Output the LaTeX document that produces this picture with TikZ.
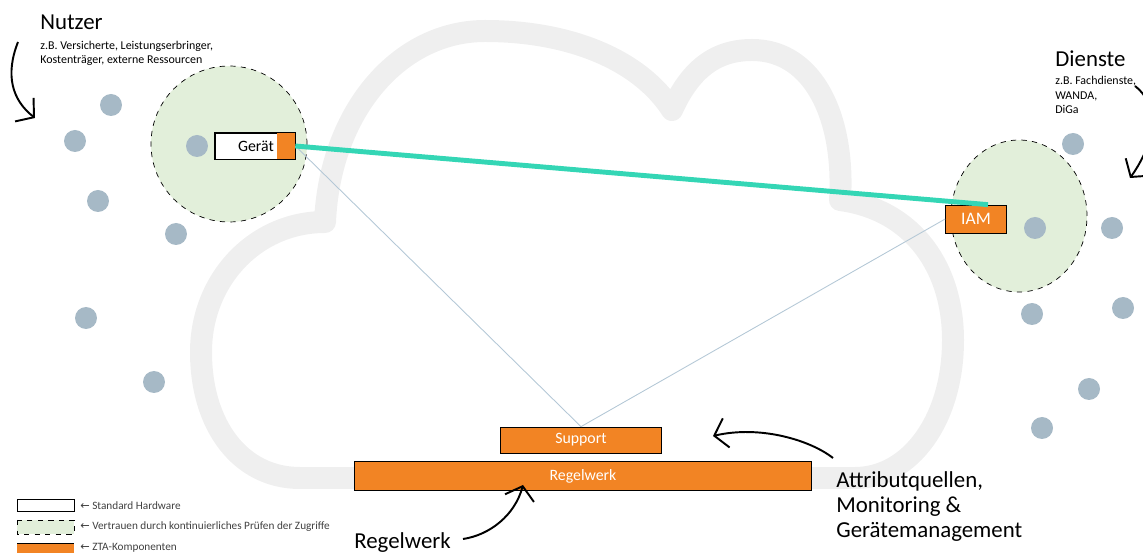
\documentclass[tikz,border=0pt]{standalone}
\usepackage{fontspec}
\setmainfont{Carlito}
\newfontfamily\arrowfont{DejaVu Sans}
\usetikzlibrary{arrows.meta,shapes.geometric}
\definecolor{cloudgray}{RGB}{239,239,239}
\definecolor{dotblue}{RGB}{166,185,198}
\definecolor{trustgreen}{RGB}{226,239,218}
\definecolor{ztaorange}{RGB}{242,132,36}
\definecolor{linkteal}{RGB}{52,214,181}
\definecolor{thinblue}{RGB}{180,200,214}
\definecolor{legendgray}{RGB}{64,64,64}
\tikzset{
  dot/.style={circle,fill=dotblue,inner sep=0pt,minimum size=0.44cm},
  trustzone/.style={ellipse,draw=black,dashed,fill=trustgreen,inner sep=0pt},
  hwbox/.style={draw=black,fill=white,inner sep=0pt},
  ztabox/.style={draw=black,fill=ztaorange,text=white,inner sep=0pt,font=\fontsize{9}{10}\selectfont},
  bigtext/.style={anchor=base west,inner sep=0pt,font=\fontsize{13}{15}\selectfont},
  smalltext/.style={anchor=base west,inner sep=0pt,align=left,font=\fontsize{6.8}{8.1}\selectfont},
  legendtext/.style={anchor=base west,inner sep=0pt,text=legendgray,font=\fontsize{6.4}{7}\selectfont},
  handarrow/.style={line width=1.1pt,-{Straight Barb[length=7pt,width=17pt]}},
}
\begin{document}
\begin{tikzpicture}[x=0.02cm,y=-0.02cm]
  \useasboundingbox (0,0) rectangle (1143,553);
  % cloud
  \draw[cloudgray,line width=0.44cm,line join=round]
    (300,478) .. controls (240,478) and (201,425) .. (201,352)
    .. controls (201,280) and (255,222) .. (325,222)
    .. controls (330,110) and (400,31) .. (485,31)
    .. controls (570,31) and (640,60) .. (672,110)
    .. controls (690,70) and (715,50) .. (752,50)
    .. controls (815,50) and (845,120) .. (840,200)
    .. controls (915,210) and (953,270) .. (953,340)
    .. controls (953,420) and (910,478) .. (855,478)
    -- cycle;
  % trust zones
  \node[trustzone,minimum width=3.12cm,minimum height=3.12cm] (nutzerzone) at (229,144) {};
  \node[trustzone,minimum width=2.72cm,minimum height=3.04cm] (dienstezone) at (1019,216) {};
  % dots
  \foreach \x/\y in {111/105,75/141,197/146,98/201,176/234,86/318,154/382,
                     1073/144,1035/228,1112/228,1032/314,1123/308,1089/389,1042/428}
    \node[dot] at (\x,\y) {};
  % components
  \node[hwbox,minimum width=1.6cm,minimum height=0.52cm] (geraet) at (255,146) {};
  \fill[ztaorange] ([xshift=-0.36cm]geraet.north east) rectangle (geraet.south east);
  \draw (geraet.north west) rectangle (geraet.south east);
  \node[font=\fontsize{9}{10}\selectfont] at (256,146) {Gerät};
  \node[ztabox,minimum width=1.22cm,minimum height=0.56cm,font=\fontsize{10}{11}\selectfont] (iam) at (976,219) {IAM};
  \node[ztabox,minimum width=3.22cm,minimum height=0.52cm] (support) at (581,440) {Support};
  \node[ztabox,minimum width=9.14cm,minimum height=0.58cm] (regelwerk) at (583,476) {Regelwerk};
  % links
  \draw[thinblue,line width=0.5pt] (geraet.east) -- (support.north);
  \draw[thinblue,line width=0.5pt] (iam.west) -- (support.north);
  \draw[linkteal,line width=2.8pt] (geraet.east) -- ([xshift=0.24cm]iam.north);
  % labels (multi-line nodes sit on their last line)
  \node[bigtext] (nutzer) at (40,30) {Nutzer};
  \node[smalltext] at (40,64) {z.B. Versicherte, Leistungserbringer,\\Kostenträger, externe Ressourcen};
  \node[bigtext] (dienste) at (1055,67) {Dienste};
  \node[smalltext,font=\fontsize{6.8}{8.3}\selectfont] at (1055,114) {z.B. Fachdienste,\\WANDA,\\DiGa};
  \node[bigtext,align=left,font=\fontsize{13}{14.5}\selectfont] (quellen) at (836,538)
    {Attributquellen,\\Monitoring \&\\Gerätemanagement};
  \node[bigtext] (regellabel) at (354,549) {Regelwerk};
  % hand drawn arrows
  \coordinate (nutzertip) at (35,118);
  \coordinate (dienstetip) at (1130,178);
  \coordinate (quellentip) at (713,436);
  \coordinate (regeltip) at (523,485);
  \draw[handarrow] (18,42) .. controls (5,75) and (12,100) .. (nutzertip);
  \draw[handarrow] (1135,86) .. controls (1165,110) and (1150,150) .. (dienstetip);
  \draw[handarrow] (833,458) .. controls (810,440) and (760,425) .. (quellentip);
  \draw[handarrow] (463,539) .. controls (490,535) and (515,515) .. (regeltip);
  % legend
  \draw[black] (17,499) rectangle (74,511);
  \draw[black,dashed,fill=trustgreen] (17,520) rectangle (74,534);
  \fill[ztaorange] (17,543) rectangle (74,560);
  \draw[black] (17,543) -- (74,543);
  \node[legendtext] at (80,510) {{\arrowfont ←} Standard Hardware};
  \node[legendtext] at (80,530) {{\arrowfont ←} Vertrauen durch kontinuierliches Prüfen der Zugriffe};
  \node[legendtext] at (80,551) {{\arrowfont ←} ZTA-Komponenten};
\end{tikzpicture}
\end{document}
